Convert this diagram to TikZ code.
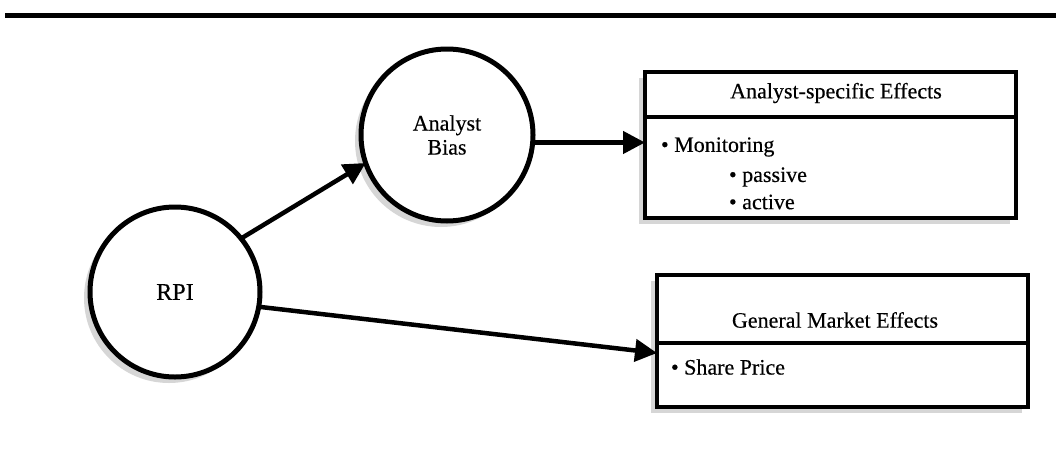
\documentclass[tikz,border=0pt]{standalone}
\usepackage{fontspec}
\setmainfont{Liberation Serif}[FakeBold=0.35]
\usetikzlibrary{arrows.meta,shadows}

\begin{document}
\begin{tikzpicture}[x=1pt,y=-1pt,
  every node/.style={inner sep=0pt, outer sep=0pt},
  softshadow/.style={drop shadow={shadow xshift=-6pt, shadow yshift=-6pt, fill=black!16, opacity=1}},
  bubble/.style={circle, draw, line width=5pt, fill=white, softshadow, align=center,
    font=\fontsize{22pt}{24pt}\selectfont},
  panel/.style={rectangle, draw, line width=4pt, fill=white, anchor=north west,
    minimum width=371pt},
  label/.style={font=\fontsize{22pt}{24pt}\selectfont},
  conn/.style={line width=4.5pt, -{Triangle[length=22pt,width=22pt]}},
]
\useasboundingbox (0,0) rectangle (1056,474);

% heading rule
\draw[line width=5pt] (5,15) -- (1056,15);

% causes
\node[bubble, minimum size=170pt, font=\fontsize{24pt}{26pt}\selectfont] (rpi) at (175,292) {RPI};
\node[bubble, minimum size=172pt] (ab) at (447,135) {Analyst\\Bias};

% analyst-specific effects panel
\node[panel, softshadow, minimum height=146pt] (aebox) at (645,72) {};
\node[panel, minimum height=45pt] (aehead) at (645,72) {};
\node[panel, minimum height=101pt] (aebody) at (645,117) {};
\node[label] (aetitle) at (836,93) {Analyst-specific Effects};
\node[label, anchor=west] (mon) at (661,147) {\textbullet\ Monitoring};
\node[label, anchor=west] (pas) at (729,177) {\textbullet\ passive};
\node[label, anchor=west] (act) at (729,202) {\textbullet\ active};

% general market effects panel
\node[panel, softshadow, minimum height=132pt] (gmbox) at (657,275) {};
\node[panel, minimum height=68pt] (gmhead) at (657,275) {};
\node[panel, minimum height=64pt] (gmbody) at (657,343) {};
\node[label] (gmtitle) at (835,320) {General Market Effects};
\node[label, anchor=west] (sp) at (671,367) {\textbullet\ Share Price};

% connectors
\draw[conn] (rpi.39) -- (ab.199);
\draw[conn] (ab.-5.3) -- (ab.-5.3 -| aebody.west);
\draw[conn] (rpi.-10.7) -- ([yshift=22pt]gmbody.west);
\end{tikzpicture}
\end{document}
